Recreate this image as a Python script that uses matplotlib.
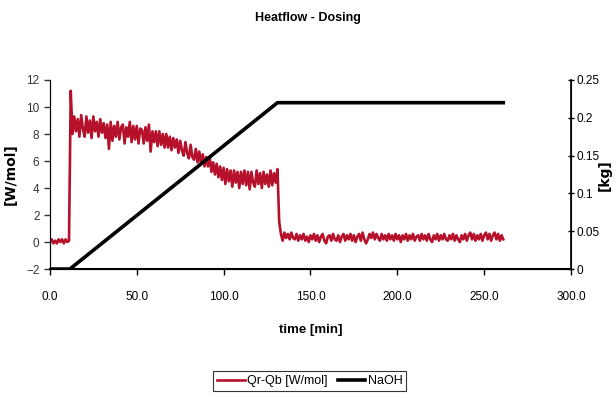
import numpy as np
import matplotlib
matplotlib.use("Agg")
import matplotlib.pyplot as plt

plt.rcParams['font.family'] = ['Liberation Sans', 'DejaVu Sans']

# Heat flow Qr-Qb [W/mol], one reading per minute from t = 0
qr_qb = [
    # baseline before dosing
    0.0, 0.2, -0.1, 0.1, -0.1, 0.2, 0.0, 0.2, -0.1, 0.2, 0.0, 0.1,
    # start of dosing
    11.2,
    8.0, 9.3, 8.2, 9.1, 7.8, 9.4, 8.4, 7.8, 9.3, 8.1, 9.0, 7.7, 9.3, 8.2, 8.9, 7.8, 9.1, 8.1,
    8.8, 7.7, 8.7, 6.9, 8.9, 7.5, 8.6, 7.8, 8.9, 7.6, 8.5, 8.7, 7.3, 8.5, 7.8, 8.9, 7.4, 8.6, 7.6, 8.6,
    7.3, 8.4, 8.3, 7.3, 8.5, 7.5, 8.7, 6.7, 8.2, 7.4,
    8.2, 7.1, 8.2, 7.2, 8.0, 7.0, 8.0, 7.0, 7.8, 6.8, 7.7, 7.0, 7.6, 6.6, 7.5, 6.8, 6.4, 7.4, 6.6, 6.2,
    7.2, 6.3, 6.1, 6.9, 5.9, 6.7, 5.8, 6.5, 5.6, 6.3,
    5.6, 6.3, 5.2, 5.9, 5.0, 5.8, 4.8, 5.6, 4.6, 5.5, 4.3, 5.4, 4.5, 5.3, 4.1, 5.3, 4.4, 5.2, 4.0, 5.2,
    4.3, 5.3, 4.2, 5.2, 3.9, 5.2, 4.4, 4.1, 5.3, 4.3, 5.1, 4.0, 5.2, 4.3, 5.0, 4.1, 5.3, 4.2, 5.1, 4.4, 5.4,
    # end of dosing
    1.5,
    0.6, 0.1, 0.7, 0.3, 0.6, 0.2, 0.7, 0.3, 0.2, 0.6, 0.1, 0.5, 0.2, 0.6, 0.1, 0.4, 0.0, 0.5, 0.2, 0.6,
    0.1, 0.5, 0.0, 0.4, 0.6, 0.1, -0.1, 0.4, 0.5, 0.1, 0.6, 0.2, 0.1, 0.5, 0.0, 0.4, 0.6, 0.1, 0.5, 0.2,
    0.6, 0.1, 0.5, 0.0, 0.4, 0.6, 0.1, 0.7, 0.2, -0.1, 0.2, 0.6, 0.3, 0.7, 0.2, 0.6, 0.3, 0.1, 0.6, 0.2,
    0.5, 0.1, 0.6, 0.2, 0.5, 0.1, 0.6, 0.2, 0.5, 0.0, 0.5, 0.2, 0.6, 0.1, 0.5, 0.2, 0.6, 0.1, 0.4, 0.5,
    0.1, 0.6, 0.2, 0.5, 0.1, 0.6, 0.2, 0.0, 0.5, 0.2, 0.6, 0.1, 0.5, 0.2, 0.6, 0.2, 0.1, 0.5, 0.2, 0.6,
    0.1, 0.5, 0.2, 0.0, 0.5, 0.2, 0.6, 0.1, 0.5, 0.7, 0.2, 0.6, 0.1, 0.5, 0.2, 0.6, 0.1, 0.5, 0.7, 0.2,
    0.6, 0.1, 0.5, 0.7, 0.2, 0.6, 0.1, 0.5, 0.2,
]
time_qr = np.arange(len(qr_qb))

# NaOH dosed [kg]
time_naoh = [0, 11.5, 131, 261]
naoh = [0, 0, 0.22, 0.22]

fig = plt.figure(figsize=(6.16, 3.98), dpi=100)
ax = fig.add_axes([0.081, 0.324, 0.846, 0.475])
ax2 = ax.twinx()

l1, = ax.plot(time_qr, qr_qb, color='#B5112A', lw=1.9, label='Qr-Qb [W/mol]')
l2, = ax2.plot(time_naoh, naoh, color='black', lw=2.6, label='NaOH')

ax.set_xlim(0, 300)
ax.set_ylim(-2, 12)
ax2.set_ylim(0, 0.25)
ax.set_xticks(np.arange(0, 301, 50))
ax.set_xticklabels(['%.1f' % v for v in np.arange(0, 301, 50)])
ax.set_yticks(np.arange(-2, 13, 2))
ax2.set_yticks([0, 0.05, 0.1, 0.15, 0.2, 0.25])
ax2.set_yticklabels(['0', '0.05', '0.1', '0.15', '0.2', '0.25'])

for a in (ax, ax2):
    a.spines['top'].set_visible(False)
ax.spines['left'].set_color('#555555')
ax.spines['bottom'].set_linewidth(1.5)
ax2.spines['right'].set_linewidth(1.2)
ax.tick_params(axis='both', labelsize=8.5, length=4, width=1, colors='black')
ax.tick_params(axis='x', pad=12)
ax.tick_params(axis='y', colors='#333333')
ax2.tick_params(axis='y', labelsize=8.5, length=4, direction='inout', width=1, pad=2)

fig.text(0.5, 0.955, 'Heatflow - Dosing', fontsize=9, fontweight='bold', ha='center', va='center')
ax.set_xlabel('time [min]', fontsize=9.5, fontweight='bold', labelpad=15)
ax.set_ylabel('[W/mol]', fontsize=10, fontweight='bold', family='DejaVu Sans', labelpad=6)
fig.text(0.982, 0.56, '[kg]', rotation=90, fontsize=10, fontweight='bold',
         family='DejaVu Sans', ha='center', va='center')

leg = fig.legend([l1, l2], ['Qr-Qb [W/mol]', 'NaOH'], loc='center', bbox_to_anchor=(0.503, 0.043),
                 ncol=2, fontsize=9, frameon=True, fancybox=False, handlelength=2.2,
                 handletextpad=0.2, columnspacing=0.8, borderpad=0.3)
leg.get_frame().set_edgecolor('black')
leg.get_frame().set_linewidth(0.8)

fig.savefig('out.png', dpi=100)
